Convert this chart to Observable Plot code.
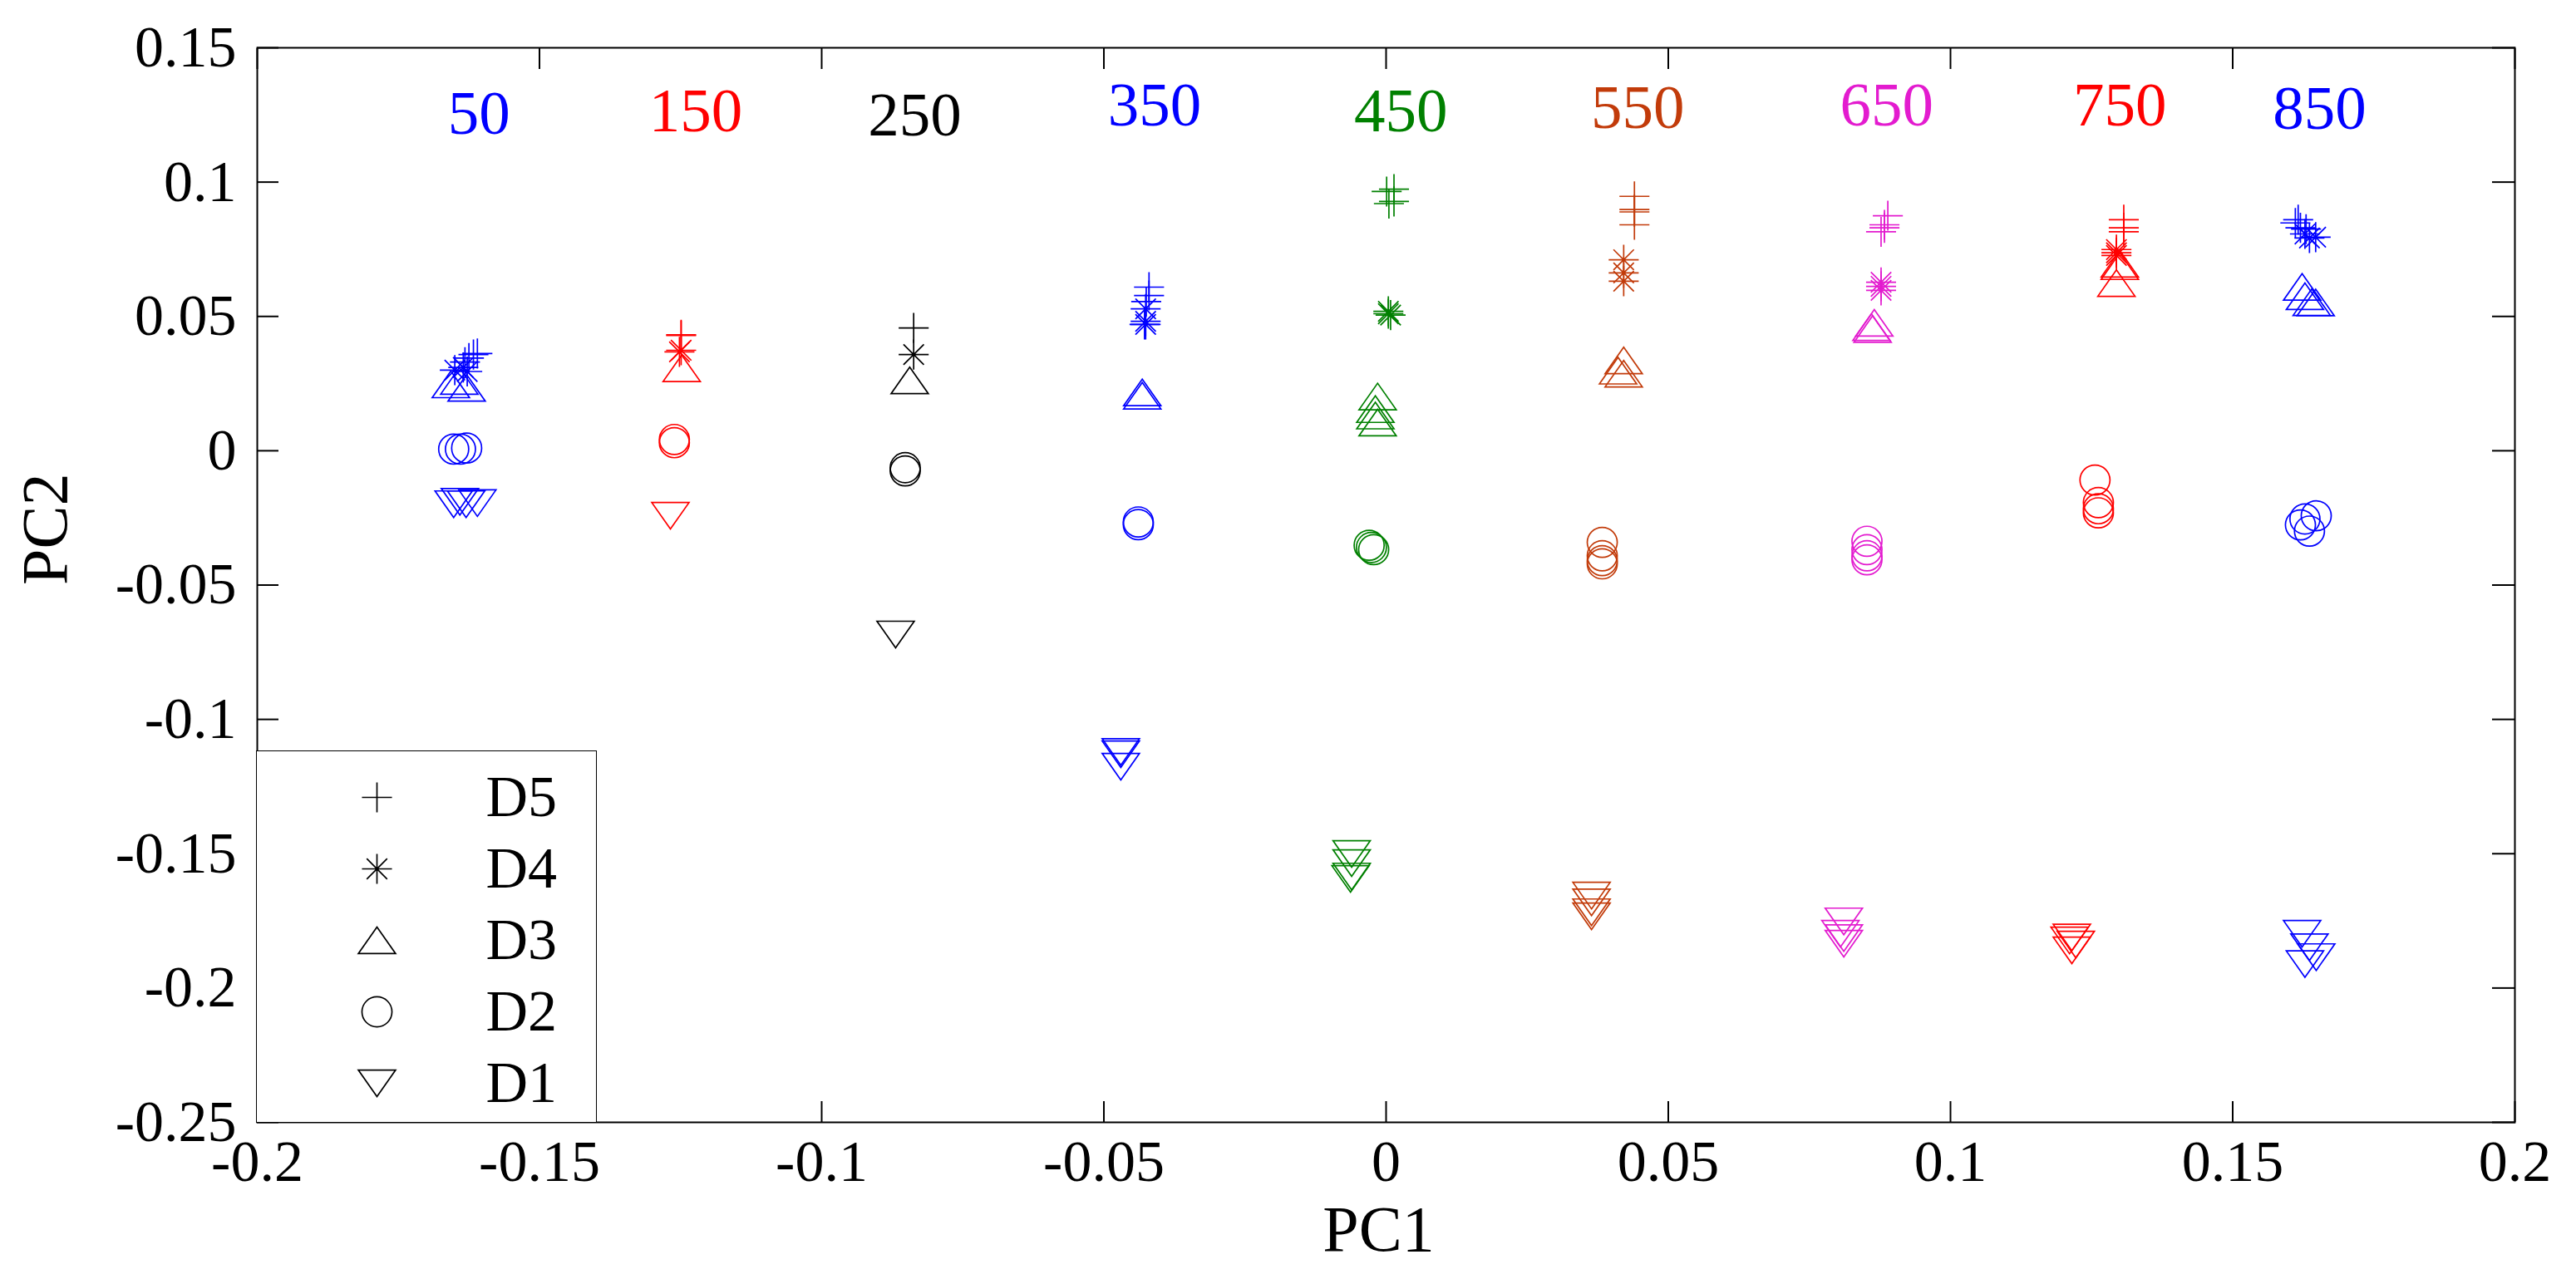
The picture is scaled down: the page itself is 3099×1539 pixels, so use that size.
<!DOCTYPE html>
<html>
<head>
<meta charset="utf-8">
<script src="https://cdn.jsdelivr.net/npm/d3@7"></script>
<script src="https://cdn.jsdelivr.net/npm/@observablehq/plot@0.6"></script>
<style>
  body { margin: 0; background: white; overflow: hidden; }
  #wrap { position: relative; width: 3099px; height: 1539px; }
  #legend { position: absolute; left: 308px; top: 903px; border: 1.5px solid black; background: white; line-height: 0; }
  svg, svg text { font-family: "Liberation Serif", "Times New Roman", Times, serif !important; }
</style>
</head>
<body>
<div id="wrap">
  <div id="chart"></div>
  <div id="legend"></div>
</div>
<script>
// wavelength groups and their colours
const wavelengths = [50, 150, 250, 350, 450, 550, 650, 750, 850]
const groupColors = ["#0000ff", "#ff0000", "#000000", "#0000ff", "#008000", "#c23b0a", "#e31bcf", "#ff0000", "#0000ff"]
// where each wavelength label sits (PC1, PC2)
const labelX = [-0.1607, -0.1223, -0.0835, -0.041, 0.0026, 0.0446, 0.0887, 0.130, 0.1654]
const labelY = [0.118, 0.1188, 0.1175, 0.1212, 0.1188, 0.120, 0.1212, 0.1212, 0.1198]

const xTicks = [-0.2, -0.15, -0.1, -0.05, 0, 0.05, 0.1, 0.15, 0.2]
const yTicks = [-0.25, -0.2, -0.15, -0.1, -0.05, 0, 0.05, 0.1, 0.15]

const seriesNames = ["D5", "D4", "D3", "D2", "D1"]

// [wavelength, PC1, PC2]
const D5 = [
  [50, -0.1617, 0.0358], [50, -0.1625, 0.0345], [50, -0.1632, 0.0330], [50, -0.1610, 0.0362],
  [150, -0.1249, 0.0429], [150, -0.1249, 0.0432],
  [250, -0.0837, 0.0457],
  [350, -0.0420, 0.0609], [350, -0.0420, 0.0578], [350, -0.0425, 0.0555], [350, -0.0428, 0.0470],
  [450, 0.0014, 0.0974], [450, 0.0001, 0.0965], [450, 0.0014, 0.0928], [450, 0.0005, 0.0920],
  [550, 0.0440, 0.0947], [550, 0.0440, 0.0898], [550, 0.0440, 0.0889], [550, 0.0440, 0.0841],
  [650, 0.0889, 0.0875], [650, 0.0883, 0.0841], [650, 0.0883, 0.0830], [650, 0.0877, 0.0815],
  [750, 0.1307, 0.0860], [750, 0.1307, 0.0830], [750, 0.1307, 0.0815],
  [850, 0.1616, 0.0860], [850, 0.1611, 0.0848], [850, 0.1620, 0.0830], [850, 0.1630, 0.0825]
]
const D4 = [
  [50, -0.1650, 0.0300], [50, -0.1635, 0.0310], [50, -0.1628, 0.0295],
  [150, -0.1249, 0.0374], [150, -0.1252, 0.0368],
  [250, -0.0837, 0.0358],
  [350, -0.0426, 0.0528], [350, -0.0426, 0.0482], [350, -0.0426, 0.0470],
  [450, 0.0004, 0.0519], [450, 0.0004, 0.0510], [450, 0.0008, 0.0505],
  [550, 0.0421, 0.0711], [550, 0.0421, 0.0662], [550, 0.0421, 0.0631],
  [650, 0.0877, 0.0627], [650, 0.0877, 0.0612], [650, 0.0877, 0.0597],
  [750, 0.1294, 0.0749], [750, 0.1294, 0.0737], [750, 0.1294, 0.0727],
  [850, 0.1628, 0.0807], [850, 0.1636, 0.0792], [850, 0.1647, 0.0795]
]
const D3 = [
  [50, -0.1657, 0.0247], [50, -0.1642, 0.0260], [50, -0.1629, 0.0234],
  [150, -0.1248, 0.0307],
  [250, -0.0844, 0.0262],
  [350, -0.0432, 0.0217], [350, -0.0432, 0.0205],
  [450, -0.0015, 0.0202], [450, -0.0019, 0.0155], [450, -0.0019, 0.0131], [450, -0.0015, 0.0105],
  [550, 0.0421, 0.0336], [550, 0.0411, 0.0298], [550, 0.0421, 0.0287],
  [650, 0.0865, 0.0476], [650, 0.0860, 0.0460], [650, 0.0862, 0.0453],
  [750, 0.1300, 0.0696], [750, 0.1300, 0.0687], [750, 0.1294, 0.0624],
  [850, 0.1623, 0.0610], [850, 0.1628, 0.0575], [850, 0.1640, 0.0553], [850, 0.1647, 0.0552]
]
const D2 = [
  [50, -0.1652, 0.0006], [50, -0.1640, 0.0006], [50, -0.1629, 0.0010],
  [150, -0.1261, 0.0042], [150, -0.1261, 0.0030],
  [250, -0.0852, -0.0063], [250, -0.0852, -0.0075],
  [350, -0.0439, -0.0265], [350, -0.0439, -0.0275],
  [450, -0.0026, -0.0360], [450, -0.0022, -0.0368], [450, -0.0030, -0.0352],
  [550, 0.0383, -0.0341], [550, 0.0383, -0.0391], [550, 0.0383, -0.0409], [550, 0.0383, -0.0421],
  [650, 0.0852, -0.0337], [650, 0.0852, -0.0368], [650, 0.0852, -0.0391], [650, 0.0852, -0.0406],
  [750, 0.1256, -0.0109], [750, 0.1262, -0.0193], [750, 0.1262, -0.0216], [750, 0.1262, -0.0231],
  [850, 0.1628, -0.0254], [850, 0.1648, -0.0242], [850, 0.1636, -0.0299], [850, 0.1620, -0.0276]
]
const D1 = [
  [50, -0.1652, -0.0199], [50, -0.1630, -0.0199], [50, -0.1610, -0.0195], [50, -0.1641, -0.0190],
  [150, -0.1268, -0.0242],
  [250, -0.0869, -0.0684],
  [350, -0.0470, -0.1121], [350, -0.0470, -0.1130], [350, -0.0470, -0.1176],
  [450, -0.0061, -0.1501], [450, -0.0061, -0.1535], [450, -0.0061, -0.1585], [450, -0.0063, -0.1594],
  [550, 0.0364, -0.1656], [550, 0.0364, -0.1681], [550, 0.0364, -0.1718], [550, 0.0364, -0.1733],
  [650, 0.0811, -0.1752], [650, 0.0805, -0.1798], [650, 0.0811, -0.1814], [650, 0.0811, -0.1835],
  [750, 0.1215, -0.1812], [750, 0.1211, -0.1823], [750, 0.1222, -0.1838], [750, 0.1215, -0.1860],
  [850, 0.1623, -0.1798], [850, 0.1636, -0.1848], [850, 0.1648, -0.1885], [850, 0.1628, -0.1911]
]

// matlab-like marker shapes
const plusSym = {draw(c, size) {
  const s = Math.sqrt(size / Math.PI) * 0.95
  c.moveTo(-s, 0); c.lineTo(s, 0); c.moveTo(0, -s); c.lineTo(0, s)
}}
const starSym = {draw(c, size) {
  const s = Math.sqrt(size / Math.PI) * 0.95, d = s * 0.68
  c.moveTo(-s, 0); c.lineTo(s, 0); c.moveTo(0, -s); c.lineTo(0, s)
  c.moveTo(-d, -d); c.lineTo(d, d); c.moveTo(-d, d); c.lineTo(d, -d)
}}
const triUpSym = {draw(c, size) {
  const r = Math.sqrt(size / Math.PI), hw = r * 1.18, hh = r * 0.84
  c.moveTo(0, -hh); c.lineTo(hw, hh); c.lineTo(-hw, hh); c.closePath()
}}
const circleSym = {draw(c, size) {
  const r = Math.sqrt(size / Math.PI) * 0.95
  c.moveTo(r, 0); c.arc(0, 0, r, 0, 2 * Math.PI)
}}
const triDownSym = {draw(c, size) {
  const r = Math.sqrt(size / Math.PI), hw = r * 1.18, hh = r * 0.84
  c.moveTo(0, hh); c.lineTo(hw, -hh); c.lineTo(-hw, -hh); c.closePath()
}}
const seriesSymbols = [plusSym, starSym, triUpSym, circleSym, triDownSym]
const seriesData = [D5, D4, D3, D2, D1]

const fmt = d => `${d}`
const serif = "Liberation Serif, Times New Roman, serif"

let chart = Plot.plot({
  width: 3099,
  height: 1539,
  marginLeft: 309,
  marginRight: 74,
  marginTop: 57,
  marginBottom: 189,
  style: {fontFamily: serif, background: "white", color: "black"},
  x: {domain: [-0.2, 0.2]},
  y: {domain: [-0.25, 0.15]},
  color: {type: "ordinal", domain: wavelengths, range: groupColors},
  marks: [
    Plot.frame({strokeWidth: 2}),
    // tick labels
    Plot.axisX({ticks: xTicks, tickSize: 0, tickPadding: 21, tickFormat: fmt, label: null, fontSize: 70}),
    Plot.axisY({ticks: yTicks, tickSize: 0, tickPadding: 25, tickFormat: fmt, label: null, fontSize: 70}),
    // inward ticks on every side (no text)
    Plot.axisX({anchor: "bottom", ticks: xTicks, tickSize: 25, dy: -25, fill: "none", label: null, strokeWidth: 2}),
    Plot.axisX({anchor: "top", ticks: xTicks, tickSize: 25, dy: 25, fill: "none", label: null, strokeWidth: 2}),
    Plot.axisY({anchor: "left", ticks: yTicks, tickSize: 26, dx: 26, fill: "none", label: null, strokeWidth: 2}),
    Plot.axisY({anchor: "right", ticks: yTicks, tickSize: 28, dx: -28, fill: "none", label: null, strokeWidth: 2}),
    // axis titles
    Plot.text(["PC1"], {frameAnchor: "bottom", dy: 154, dx: -9, lineAnchor: "bottom", fontSize: 78}),
    Plot.text(["PC2"], {frameAnchor: "left", dx: -254, rotate: -90, fontSize: 78}),
    // wavelength labels
    Plot.text(wavelengths, {
      x: (d, i) => labelX[i], y: (d, i) => labelY[i],
      text: d => `${d}`, fill: d => d, lineAnchor: "bottom", fontSize: 75
    }),
    // the points, one mark per series
    ...seriesData.map((rows, i) => Plot.dot(rows, {
      x: d => d[1], y: d => d[2], stroke: d => d[0],
      symbol: seriesSymbols[i], r: 19, strokeWidth: 1.7
    }))
  ]
})
d3.select('#chart').append(() => chart)

let legend = Plot.plot({
  width: 408,
  height: 446,
  margin: 0,
  style: {fontFamily: serif, background: "white", color: "black"},
  y: {type: "point", domain: seriesNames, axis: null, padding: 0, insetTop: 54, insetBottom: 46},
  marks: [
    ...seriesNames.map((s, i) => Plot.dot([s], {
      y: d => d, symbol: seriesSymbols[i], r: 19, stroke: "black", strokeWidth: 1.7, dx: -60
    })),
    Plot.text(seriesNames, {y: d => d, text: d => d, frameAnchor: "left", textAnchor: "start", dx: 275, fontSize: 70})
  ]
})
d3.select('#legend').append(() => legend)
</script>
</body>
</html>
